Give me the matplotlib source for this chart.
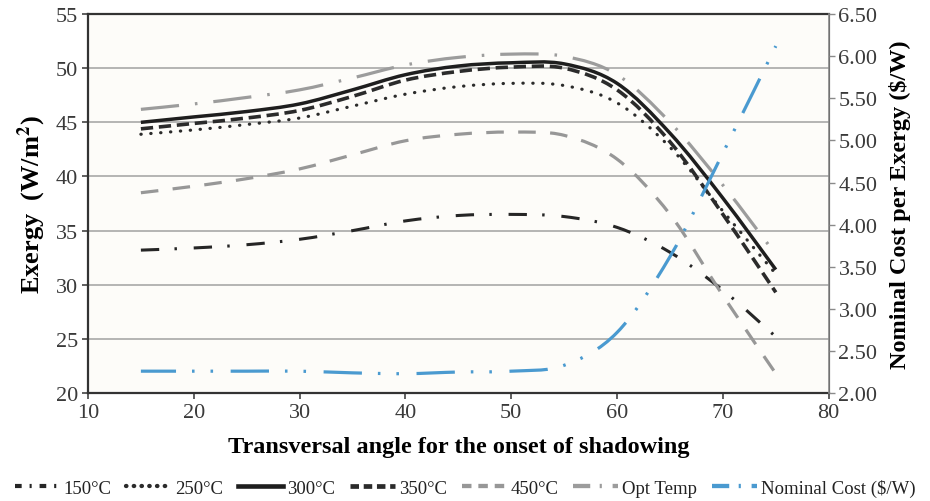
import matplotlib
matplotlib.use("Agg")
import matplotlib.pyplot as plt
from matplotlib.path import Path
from matplotlib.patches import PathPatch
from matplotlib.lines import Line2D
import numpy as np

plt.rcParams["font.family"] = ["Liberation Serif", "DejaVu Serif"]
plt.rcParams["mathtext.fontset"] = "stix"

# --- data ---
angle = [15, 20, 25, 30, 35, 40, 45, 50, 55, 60, 65, 70, 75]

ex_150 = [33.2, 33.4, 33.7, 34.2, 35.0, 35.9, 36.4, 36.5, 36.3, 35.3, 33.0, 29.5, 25.2]
ex_250 = [43.9, 44.3, 44.8, 45.4, 46.5, 47.6, 48.3, 48.6, 48.4, 46.8, 42.7, 36.8, 31.0]
ex_300 = [45.0, 45.5, 46.0, 46.7, 48.0, 49.4, 50.2, 50.5, 50.4, 48.6, 44.0, 38.0, 31.4]
ex_350 = [44.4, 44.9, 45.4, 46.1, 47.4, 48.9, 49.7, 50.1, 50.0, 48.0, 43.2, 36.5, 29.3]
ex_450 = [38.5, 39.1, 39.8, 40.7, 42.0, 43.3, 43.9, 44.1, 43.8, 41.6, 36.5, 29.0, 21.8]
ex_opt = [46.2, 46.7, 47.3, 48.0, 49.1, 50.3, 51.0, 51.3, 51.1, 49.4, 45.0, 39.2, 32.8]
cost = [2.26, 2.26, 2.26, 2.26, 2.24, 2.23, 2.25, 2.26, 2.33, 2.72, 3.62, 4.85, 6.12]

# label, values, colour, dash pattern (plot), dash pattern (legend), width, capstyle
series = [
    ("150°C", ex_150, "#262626", (0, (6, 5, 0.8, 5.5)), (0, (1.6, 1.9, 0.5, 1.9)), 2.2, "butt"),
    ("250°C", ex_250, "#2b2b2b", (0, (0.1, 3.0)), (0, (0.1, 1.7)), 2.3, "round"),
    ("300°C", ex_300, "#1e1e1e", "-", "-", 2.5, "butt"),
    ("350°C", ex_350, "#2b2b2b", (0, (3.4, 1.6)), (0, (1.8, 1.0)), 2.6, "butt"),
    ("450°C", ex_450, "#979797", (0, (5.5, 4.5)), (0, (2.2, 1.6)), 2.3, "butt"),
    ("Opt Temp", ex_opt, "#9c9c9c", (0, (12, 5, 0.8, 5)), (0, (4, 2.2, 0.5, 2.5)), 2.3, "butt"),
    ("Nominal Cost ($/W)", cost, "#4a9ad0", (1, (12, 5, 0.8, 5, 0.8, 5.5)),
     (0, (4, 2.2, 0.5, 2.5)), 2.3, "butt"),
]


def smooth_path(xs, ys):
    # cubic bezier through the points, same idea as spreadsheet "smoothed line"
    pts = np.column_stack([xs, ys]).astype(float)
    n = len(pts)
    verts = [pts[0]]
    codes = [Path.MOVETO]
    for i in range(n - 1):
        p0 = pts[i - 1] if i > 0 else pts[i]
        p1, p2 = pts[i], pts[i + 1]
        p3 = pts[i + 2] if i + 2 < n else pts[i + 1]
        c1 = p1 + (p2 - p0) / 6.0
        c2 = p2 - (p3 - p1) / 6.0
        verts += [c1, c2, p2]
        codes += [Path.CURVE4] * 3
    return Path(verts, codes)


fig = plt.figure(figsize=(9.3, 5.02), dpi=100)
ax = fig.add_axes([0.0946, 0.215, 0.7965, 0.755])
ax.set_facecolor("#fdfcf9")
ax2 = ax.twinx()

ax.set_xlim(10, 80)
ax.set_ylim(20, 55)
ax2.set_ylim(2.0, 6.5)
ax.set_xticks(range(10, 81, 10))
ax.set_yticks(range(20, 56, 5))
ax2.set_yticks(np.arange(2.0, 6.51, 0.5))
ax2.set_yticklabels([f"{v:.2f}" for v in np.arange(2.0, 6.51, 0.5)])

for yv in range(25, 55, 5):
    ax.axhline(yv, color="#a8a8a8", linewidth=1.2, zorder=1)

handles = []
for i, (label, vals, color, ls, ls_leg, lw, cap) in enumerate(series):
    target = ax2 if i == len(series) - 1 else ax  # cost goes on the right axis
    target.add_patch(PathPatch(smooth_path(angle, vals), facecolor="none", edgecolor=color,
                               linestyle=ls, linewidth=lw, capstyle=cap, zorder=3))
    handles.append(Line2D([], [], color=color, linestyle=ls_leg, linewidth=lw + 0.8,
                          dash_capstyle=cap))

# spines and ticks
for s in ["left", "bottom", "top"]:
    ax.spines[s].set_color("#333333")
    ax.spines[s].set_linewidth(1.6)
ax2.spines["right"].set_color("#8a8a8a")
ax2.spines["right"].set_linewidth(1.2)
for s in ["left", "bottom", "top"]:
    ax2.spines[s].set_visible(False)
ax.tick_params(axis="both", direction="out", length=4, width=1.2, color="#444444",
               labelsize=16, labelcolor="#3a3a3a", pad=3)
ax2.tick_params(axis="y", direction="out", length=4, width=1.0, color="#8a8a8a",
                labelsize=16, labelcolor="#3a3a3a", pad=3)

ax.set_ylabel("Exergy  (W/m$^{\\mathbf{2}}$)", fontsize=19, fontweight="bold", labelpad=6)
ax2.set_ylabel("Nominal Cost per Exergy ($/W)", fontsize=17.5, fontweight="bold", labelpad=8)
ax.set_xlabel("Transversal angle for the onset of shadowing", fontsize=17.5,
              fontweight="bold", labelpad=10)

fig.legend(handles, [s[0] for s in series], loc="lower center",
           bbox_to_anchor=(0.5, -0.025), ncol=7, frameon=False, fontsize=13.5,
           handlelength=2.4, handletextpad=0.2, columnspacing=0.8, labelcolor="#222222")

fig.savefig("out.png", dpi=100)
